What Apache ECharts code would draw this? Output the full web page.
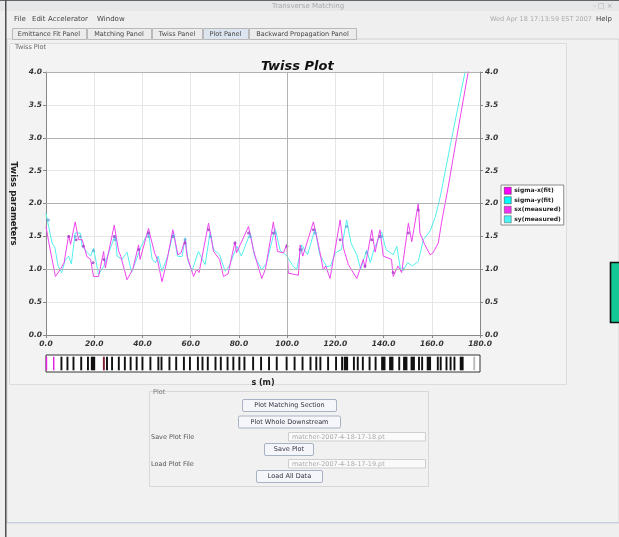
<!DOCTYPE html>
<html><head><meta charset="utf-8">
<script src="https://cdn.jsdelivr.net/npm/echarts/dist/echarts.min.js"></script>
<style>html,body{margin:0;padding:0;background:#efefef}#c{width:619px;height:537px}</style>
</head><body><div id="c"></div>
<script>
// ---- data ----
const sxFitS = [0,1.2,3.9,6,7.5,9.4,10.2,12.1,13.5,15,17,18.5,19.7,21.8,23.9,24.6,28.3,30.1,31,33.6,36,38.4,39,42.5,45,46.2,48.1,50,52.6,54.7,56,57.7,58.5,61.2,62.5,63.5,67.4,69.5,72,73.6,75.5,78.4,79,84,86,87.5,89.5,91,94.3,96,98.5,99.9,100.5,104.7,105.4,106.5,110.9,113.4,115,116,117.8,122,123.4,125.4,128.9,131.6,132.3,135.1,136.5,138.5,139.9,143.3,144,146,147.5,150.3,151.7,154.4,155.1,157,159.3,160.5,162.7,164,166.8,170.3,175.1,178];
const sxFitV = [1.65,1.40,0.89,1.0,1.1,1.52,1.38,1.72,1.45,1.45,1.19,1.15,0.89,0.89,1.27,1.02,1.67,1.28,1.2,0.84,1.0,1.37,1.15,1.62,1.25,1.15,0.81,1.1,1.60,1.22,1.25,1.45,1.2,0.89,1.0,0.95,1.70,1.27,1.15,0.89,0.93,1.42,1.25,1.65,1.3,1.1,0.86,1.0,1.72,1.27,1.25,1.38,0.94,0.91,1.37,1.2,1.72,1.3,0.99,1.05,0.86,1.75,1.32,1.07,0.86,1.15,1.02,1.60,1.26,1.60,1.2,1.15,0.89,1.05,0.95,1.70,1.42,2.0,1.55,1.38,1.22,1.25,1.40,1.70,2.25,3.0,4.0,4.6];
const syFitS = [0,0.5,2.5,3.7,5,6.5,8,9.4,10.5,12.1,14.2,15,16.8,18.5,19.7,21.8,23.9,25.5,28.7,29.5,31.5,33.6,35.5,36.5,39.5,42.5,44,45.5,46.5,48.1,50.5,52.9,54.5,56.4,57.7,59,60.5,63.2,66,68.1,69.5,72,74.3,76,79.2,81,84.7,86.5,89.5,91.5,95,97.2,99.5,102.6,104,106.1,108.5,111.6,113.5,116.4,118,120,122.5,124.7,126.5,128.9,130.5,133,134.5,136,139.2,141,144,145.5,147,148.2,150,152,154.4,156.5,159.3,161.5,163.5,168.3,173.8,176];
const syFitV = [1.85,1.83,1.40,1.33,1.05,0.95,1.14,1.2,1.08,1.55,1.55,1.35,1.27,1.20,1.32,0.92,1.04,1.2,1.52,1.2,1.15,1.26,0.95,1.05,1.35,1.57,1.15,1.1,1.2,0.97,1.2,1.57,1.2,1.19,1.48,1.12,0.97,1.27,1.07,1.57,1.3,1.22,0.97,1.05,1.35,1.2,1.55,1.2,0.99,1.1,1.62,1.28,1.22,1.04,1.0,1.37,1.22,1.62,1.22,1.04,1.05,1.25,1.3,1.75,1.4,1.22,1.0,1.29,1.1,1.3,1.57,1.3,1.22,1.35,1.0,0.99,1.1,1.05,1.12,1.45,1.58,1.8,2.1,3.0,4.0,4.45];
const sxMeasS = [9.4,12.5,15.5,19.5,24,28.3,38.5,42.5,52.6,57.7,67.4,78.4,84,94.3,99.9,105.4,110.9,122,132.3,135.1,138.5,144,150.3,154.4];
const sxMeasV = [1.50,1.45,1.35,1.10,1.15,1.50,1.30,1.55,1.50,1.40,1.60,1.40,1.55,1.55,1.35,1.30,1.60,1.45,1.05,1.45,1.50,0.95,1.55,1.90];
const syMeasS = [1,12.1,14.2,19.7,28.7,42.5,52.9,57.7,68.1,84.7,95,106.1,111.6,124.7,133,139.2,148.2];
const syMeasV = [1.75,1.50,1.50,1.28,1.45,1.50,1.50,1.45,1.50,1.50,1.55,1.30,1.55,1.65,1.25,1.50,1.0];
const seriesNames = ['sigma-x(fit)','sigma-y(fit)','sx(measured)','sy(measured)'];
const latticePos = [0.2,3.2,6.4,8.9,11.4,14.6,17.4,19.5,24.0,25.3,27.4,30.2,32.7,35.1,37.6,40.0,43.3,46.6,47.9,51.2,54.0,57.2,59.7,63.0,64.9,67.1,70.3,72.5,75.3,77.7,80.2,82.3,85.9,89.2,92.5,95.7,99.8,103.1,106.4,109.7,112.1,113.8,117.0,120.3,122.8,124.4,127.7,129.3,131.4,134.2,136.7,139.9,143.2,146.5,149.0,152.1,154.7,156.0,158.8,162.5,163.7,166.1,167.8,169.4,172.4,177.6];
const latticeLen = [0.6,0.6,0.8,0.8,0.8,0.8,0.8,1.8,0.8,0.8,0.8,0.8,0.8,0.8,0.8,0.8,0.8,0.8,0.8,0.8,0.8,0.8,0.8,0.8,0.8,0.8,0.8,0.8,0.8,0.8,0.8,0.8,0.8,0.8,0.8,0.8,0.8,0.8,0.8,0.8,0.8,0.8,0.8,0.8,0.8,1.8,0.8,0.8,0.8,0.8,0.8,1.8,1.8,0.8,1.8,1.8,0.8,0.8,1.8,0.8,0.8,0.8,0.8,0.8,1.6,0.8];
const latticeKind = latticePos.map((p,i)=> i<2 ? 'M' : (p===24.0 ? 'R' : (p===177.6 ? 'E' : 'Q')));

const zip = (a,b)=>a.map((v,i)=>[v,b[i]]);
const kindColor = {M:'#e020e0', R:'#802030', E:'#bbbbbb', Q:'#111111'};
const FF = 'DejaVu Sans';

// ---- UI frame (graphic) ----
const G = [];
function R(x,y,w,h,fill,stroke,z,r,lw){G.push({type:'rect',silent:true,z:z===undefined?-5:z,shape:{x:x,y:y,width:w,height:h,r:r||0},style:{fill:fill,stroke:stroke||null,lineWidth:lw||1}});}
function T(x,y,t,font,fill,align){G.push({type:'text',silent:true,z:10,x:x,y:y,style:{text:t,font:font,fill:fill,textAlign:align||'left',textVerticalAlign:'middle'}});}
R(0,0,619,11,'#e6e7e9',null,-6);
R(0,0,619,1,'#666',null,-4);
T(308,6,'Transverse Matching','7px '+FF,'#a8a8a8','center');
T(603,6,'- \u25A1 \u00D7','7px '+FF,'#aaa','center');
T(14,19.5,'File','7px '+FF,'#444'); T(32,19.5,'Edit','7px '+FF,'#444');
T(48,19.5,'Accelerator','7px '+FF,'#444'); T(97,19.5,'Window','7px '+FF,'#444');
T(490,19.5,'Wed Apr 18 17:13:59 EST 2007','6.5px '+FF,'#aaa'); T(596,19.5,'Help','7px '+FF,'#444');
const tabs=[['Emittance Fit Panel',12,86],['Matching Panel',87,151],['Twiss Panel',152,202],['Plot Panel',203,248],['Backward Propagation Panel',249,356]];
R(7,39,612,484,'#f1f1f1','#d2d2d2',-6);
tabs.forEach(t=>{R(t[1]+0.5,28.5,t[2]-t[1],11,t[0]==='Plot Panel'?'#dce5ef':'#ececec','#b9b9b9',-4);T((t[1]+t[2])/2,34,t[0],'6.5px '+FF,'#444','center');});
R(9.5,43.5,557,341,'#f3f3f3','#dcdcdc',-5);
T(15,47,'Twiss Plot','6.5px '+FF,'#666');
R(149.5,391.5,279,95,'#f1f1f1','#d8d8d8',-5);
T(153,392,'Plot','6.5px '+FF,'#777');
function B(x,y,w,t){R(x+0.5,y+0.5,w,12,'#f4f6f9','#a9b2c2',-3,1.5);T(x+w/2+0.5,y+6.5,t,'6.5px '+FF,'#334','center');}
B(242,399,94,'Plot Matching Section');
B(238,415.5,102,'Plot Whole Downstream');
B(264,443,49,'Save Plot');
B(256,470,66,'Load All Data');
T(151,437,'Save Plot File','6.5px '+FF,'#555');
T(151,464,'Load Plot File','6.5px '+FF,'#555');
R(288.5,432.5,137,8.5,'#fafafa','#cfcfcf',-3); T(292,437,'matcher-2007-4-18-17-18.pt','6.5px '+FF,'#aaa');
R(288.5,459.5,137,8.5,'#fafafa','#cfcfcf',-3); T(292,464,'matcher-2007-4-18-17-19.pt','6.5px '+FF,'#aaa');
R(6,522,613,1,'#c6cfe2',null,-4);
R(5,0,1.5,537,'#505050',null,-2);
R(610.5,262.5,12,60,'#14c895','#111',-2,0,1.6);

const tickLabel = {fontFamily:FF,fontWeight:'bold',fontStyle:'italic',fontSize:7.5,color:'#333'};
const chart = echarts.init(document.getElementById('c'));
chart.setOption({
  animation:false,
  backgroundColor:'#efefef',
  title:{text:'Twiss Plot',left:256,top:55,textStyle:{fontFamily:FF,fontWeight:'bold',fontStyle:'italic',fontSize:13,color:'#111'}},
  graphic:G,
  legend:{orient:'vertical',left:501,top:185,itemWidth:7,itemHeight:7,itemGap:2,itemStyle:{borderColor:'#333',borderWidth:0.5},
    padding:[2,3,2,3],backgroundColor:'#fff',borderColor:'#8a8a8a',borderWidth:1,borderRadius:0,icon:'rect',selectedMode:false,
    textStyle:{fontFamily:FF,fontSize:6,fontWeight:'bold',color:'#222',padding:[0,0,0,-2]},
    data:[{name:seriesNames[0],itemStyle:{color:'#ff00ff',borderColor:'#333',borderWidth:0.5}},
          {name:seriesNames[1],itemStyle:{color:'#00ffff',borderColor:'#333',borderWidth:0.5}},
          {name:seriesNames[2],itemStyle:{color:'#ee00ee',borderColor:'#333',borderWidth:0.5}},
          {name:seriesNames[3],itemStyle:{color:'#22f0f0',borderColor:'#333',borderWidth:0.5}}]},
  grid:[{left:46,top:72,width:434,height:263,show:true,backgroundColor:'#fff',borderWidth:0},
        {left:46,top:355,width:434,height:17,show:true,backgroundColor:'#fff',borderColor:'#333',borderWidth:1}],
  xAxis:[{gridIndex:0,type:'value',min:0,max:180,interval:20,
          axisLine:{lineStyle:{color:'#888'}},axisTick:{length:3,lineStyle:{color:'#888'}},
          axisLabel:Object.assign({margin:5,formatter:v=>v.toFixed(1)},tickLabel),
          splitLine:{show:true,lineStyle:{color:'#e6e6e6',width:1}}},
         {gridIndex:1,type:'value',min:0,max:180,axisLine:{show:false},axisTick:{show:false},axisLabel:{show:false},splitLine:{show:false},
          name:'s (m)',nameLocation:'middle',nameGap:7,nameTextStyle:{fontFamily:FF,fontWeight:'bold',fontSize:8,color:'#222'}}],
  yAxis:[{gridIndex:0,type:'value',min:0,max:4,interval:0.5,position:'left',
          axisLine:{show:true,lineStyle:{color:'#888'}},axisTick:{show:true,length:3,lineStyle:{color:'#888'}},
          axisLabel:Object.assign({margin:4,formatter:v=>v.toFixed(1)},tickLabel),
          splitLine:{show:true,lineStyle:{color:'#e6e6e6',width:1}},
          name:'Twiss parameters',nameLocation:'middle',nameRotate:-90,nameGap:25,
          nameTextStyle:{fontFamily:FF,fontWeight:'bold',fontSize:8.5,color:'#222'}},
         {gridIndex:0,type:'value',min:0,max:4,interval:0.5,position:'right',
          axisLine:{show:true,lineStyle:{color:'#888'}},axisTick:{show:true,length:3,lineStyle:{color:'#888'}},
          axisLabel:Object.assign({margin:5,formatter:v=>v.toFixed(1)},tickLabel),splitLine:{show:false}},
         {gridIndex:1,type:'value',min:0,max:1,show:false}],
  series:[
    {type:'line',name:'grid-major',xAxisIndex:0,yAxisIndex:0,data:[],z:1,silent:true,
     markLine:{silent:true,symbol:['none','none'],label:{show:false},animation:false,
       lineStyle:{color:'#b2b2b2',width:1,type:'solid'},
       data:[{yAxis:1},{yAxis:2},{yAxis:3},{yAxis:4},{xAxis:100}]}},
    {type:'line',name:seriesNames[0],xAxisIndex:0,yAxisIndex:0,data:zip(sxFitS,sxFitV),showSymbol:false,
     lineStyle:{color:'#ee44ee',width:1},itemStyle:{color:'#ee44ee'},z:3},
    {type:'line',name:seriesNames[1],xAxisIndex:0,yAxisIndex:0,data:zip(syFitS,syFitV),showSymbol:false,
     lineStyle:{color:'#55eeee',width:1},itemStyle:{color:'#55eeee'},z:2},
    {type:'scatter',name:seriesNames[2],xAxisIndex:0,yAxisIndex:0,data:zip(sxMeasS,sxMeasV),symbolSize:3,
     itemStyle:{color:'#a040c8'},z:4},
    {type:'scatter',name:seriesNames[3],xAxisIndex:0,yAxisIndex:0,data:zip(syMeasS,syMeasV),symbolSize:3,
     itemStyle:{color:'#6aa8e0'},z:4},
    {type:'custom',name:'lattice',xAxisIndex:1,yAxisIndex:2,silent:true,
     data:latticePos.map((p,i)=>[p,latticeLen[i]]),
     renderItem:function(params,api){
       const s=api.value(0),len=api.value(1);
       const p0=api.coord([s-len/2,0.9]),p1=api.coord([s+len/2,0.1]);
       return {type:'rect',shape:{x:p0[0],y:p0[1],width:Math.max(1.2,p1[0]-p0[0]),height:p1[1]-p0[1]},
               style:{fill:kindColor[latticeKind[params.dataIndex]]}};
     }}
  ]
});
</script></body></html>
